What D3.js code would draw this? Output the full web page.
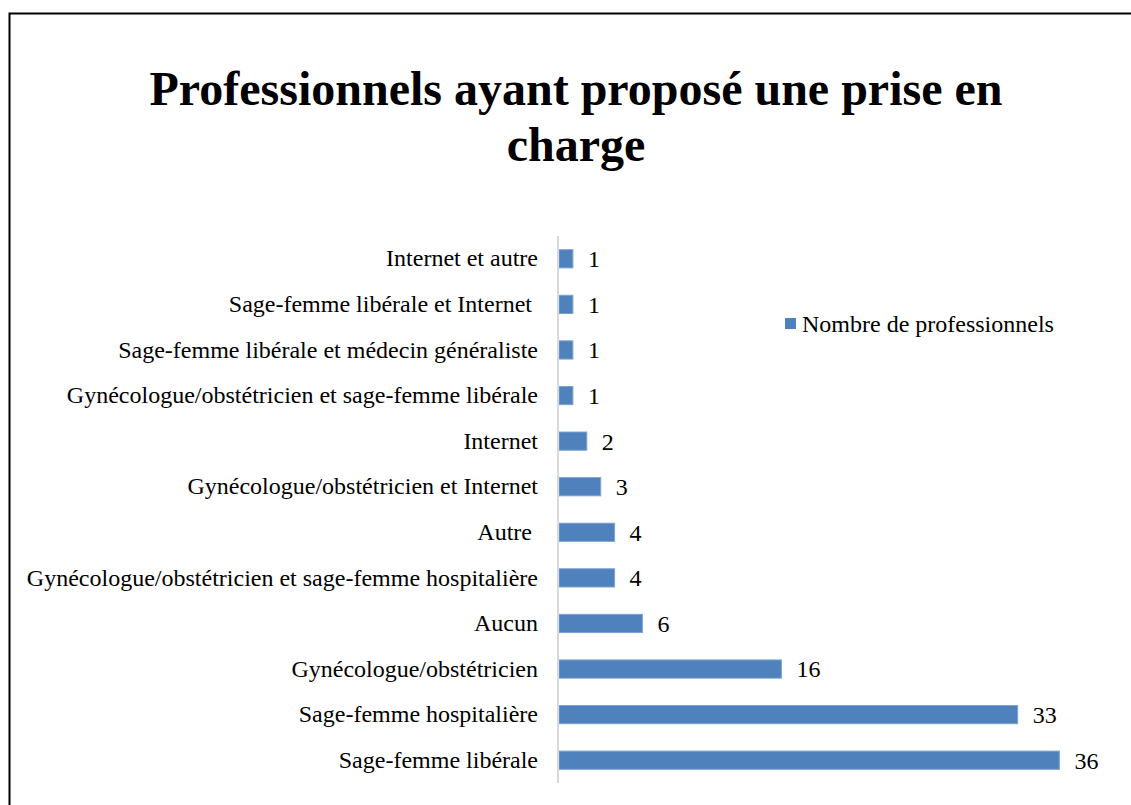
<!DOCTYPE html>
<html>
<head>
<meta charset="utf-8">
<script src="https://cdn.jsdelivr.net/npm/d3@7"></script>
<style>
  body { margin: 0; background: #fff; }
</style>
</head>
<body>
<svg id="chart"></svg>
<script>
const width = 1131;
const height = 805;
const serif = "'Liberation Serif', 'Times New Roman', Times, serif";

const titleLines = ["Professionnels ayant proposé une prise en", "charge"];
const seriesName = "Nombre de professionnels";

// top to bottom, as displayed
const categories = [
  "Internet et autre",
  "Sage-femme libérale et Internet ",
  "Sage-femme libérale et médecin généraliste",
  "Gynécologue/obstétricien et sage-femme libérale",
  "Internet",
  "Gynécologue/obstétricien et Internet",
  "Autre ",
  "Gynécologue/obstétricien et sage-femme hospitalière",
  "Aucun",
  "Gynécologue/obstétricien",
  "Sage-femme hospitalière",
  "Sage-femme libérale"
];
const values = [1, 1, 1, 1, 2, 3, 4, 4, 6, 16, 33, 36];

const barColor = "#4f81bd";

const svg = d3.select("#chart")
  .attr("width", width)
  .attr("height", height)
  .attr("font-family", serif);

// outer frame (right/bottom edges fall outside the picture)
svg.append("rect")
  .attr("x", 9.5)
  .attr("y", 13.5)
  .attr("width", 1140)
  .attr("height", 820)
  .attr("fill", "none")
  .attr("stroke", "#000")
  .attr("stroke-width", 2);

// title
svg.append("text")
  .attr("text-anchor", "middle")
  .attr("font-family", serif)
  .attr("font-size", 48)
  .attr("font-weight", "bold")
  .selectAll("tspan")
  .data(titleLines)
  .enter()
  .append("tspan")
  .attr("x", 576)
  .attr("y", (d, i) => 105 + i * 56)
  .text(d => d);

const x = d3.scaleLinear()
  .domain([0, 40])
  .range([559, 1115]);

const y = d3.scaleBand()
  .domain(categories)
  .range([236, 783])
  .paddingInner(0.6)
  .paddingOuter(0.3);

// bars
svg.append("g")
  .selectAll("rect")
  .data(values)
  .enter()
  .append("rect")
  .attr("x", x(0))
  .attr("y", (d, i) => y(categories[i]))
  .attr("width", d => x(d) - x(0))
  .attr("height", y.bandwidth())
  .attr("fill", barColor)
  .attr("stroke", "#7fa3d1")
  .attr("stroke-width", 1);

// category axis
const yAxis = svg.append("g")
  .attr("transform", `translate(${x(0) - 1},0)`)
  .call(d3.axisLeft(y).tickSize(0).tickPadding(20))
  .attr("font-family", serif)
  .attr("font-size", 24);

yAxis.select(".domain")
  .attr("stroke", "#d9d9d9")
  .attr("stroke-width", 2)
  .attr("d", `M0,${y.range()[0]}V${y.range()[1]}`);

yAxis.selectAll("text")
  .attr("fill", "#000")
  .style("white-space", "pre");

// value labels
svg.append("g")
  .selectAll("text")
  .data(values)
  .enter()
  .append("text")
  .attr("x", d => x(d) + 15)
  .attr("y", (d, i) => y(categories[i]) + y.bandwidth() / 2)
  .attr("dy", "0.35em")
  .attr("font-family", serif)
  .attr("font-size", 24)
  .text(d => d);

// legend
const legend = svg.append("g")
  .attr("transform", "translate(785,318)");

legend.append("rect")
  .attr("width", 11)
  .attr("height", 11)
  .attr("fill", barColor);

legend.append("text")
  .attr("x", 17)
  .attr("y", 5.5)
  .attr("dy", "0.35em")
  .attr("font-family", serif)
  .attr("font-size", 24)
  .text(seriesName);
</script>
</body>
</html>
